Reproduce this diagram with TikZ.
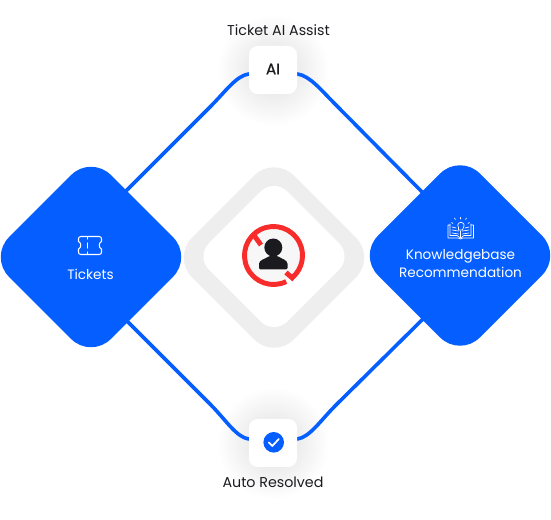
\documentclass[tikz,border=0pt]{standalone}
\usepackage{fontspec}
\setmainfont{Poppins}
\newfontfamily\aifont[FakeBold=0.6]{Poppins}
\usepackage{xcolor}
\usepackage{tikz}
\usetikzlibrary{backgrounds}
\definecolor{flowblue}{HTML}{055EFF}
\definecolor{ringgray}{HTML}{EEEEEE}
\definecolor{stopred}{HTML}{F92C2C}
\definecolor{inkdark}{HTML}{1B1B1F}

\begin{document}
\begin{tikzpicture}[x=0.75pt,y=-0.75pt]
	    \tikzstyle{tile}=[shape=rectangle,rotate=45,fill=flowblue,minimum size=108pt,rounded corners=21pt,inner sep=0pt]
	    \tikzstyle{badge}=[shape=rectangle,fill=white,minimum size=36pt,rounded corners=6.5pt,inner sep=0pt]
	    \tikzstyle{whitetext}=[text=white,font=\fontsize{10.2}{13}\selectfont,align=center]
	    \tikzstyle{caption}=[text=inkdark,font=\fontsize{10.7}{13}\selectfont]
	    \tikzstyle{link}=[draw=flowblue,line width=2.7pt,line cap=round]
	    \tikzstyle{icon}=[draw=white,line width=0.8pt,line cap=round,line join=round]
	    \tikzstyle{iconthin}=[draw=white,line width=0.5pt,line cap=round,line join=round]
	    \useasboundingbox (0,0) rectangle (551,520);

	    \node[tile](tickets) at (91,257){};
	    \node[tile](kb) at (460,255.5){};
	    \node[tile,fill=ringgray](ringout) at (274,257.5){};
	    \node[tile,fill=white,minimum size=83pt,rounded corners=14pt](ringin) at (274,256.5){};
	    \node[badge](ai) at (273,70){};
	    \node[badge](done) at (273,443){};

	    \node[caption](lai) at (278.5,30){Ticket AI Assist};
	    \node[caption](ldone) at (273,482.5){Auto Resolved};
	    \node[caption,font=\fontsize{11.5}{13}\aifont](tai) at (273,69){AI};
	    \node[whitetext](ttickets) at (90.5,274){Tickets};
	    \node[whitetext](tkb) at (460.5,263.5){Knowledgebase\\Recommendation};

	    % ends of the connectors, hidden under the tiles
	    \coordinate(t1) at (120,197);
	    \coordinate(t2) at (120,314);
	    \coordinate(k1) at (425,195);
	    \coordinate(k2) at (425,317);

	    \begin{scope}[on background layer]
	        \shade[inner color=black!13,outer color=white] (ai) circle (56);
	        \shade[inner color=black!13,outer color=white] (done) circle (56);
	        \draw[link] (t1) -- (210,107) .. controls (226,91) and (236,76) .. (ai);
	        \draw[link] (k1) -- (336,105) .. controls (320,89) and (310,76) .. (ai);
	        \draw[link] (t2) -- (210,404) .. controls (226,420) and (236,437) .. (done);
	        \draw[link] (k2) -- (336,405) .. controls (320,421) and (310,437) .. (done);
	    \end{scope}

	    % no person sign
	    \node[circle,fill=black!3,minimum size=42pt,inner sep=0pt](sign) at (273.5,255.5){};
	    \draw[stopred,line width=3.7pt] (sign.center) ++(64:29) arc (64:407:29);
	    \draw[stopred,line width=3.7pt] (254.5,236) -- (261,245);
	    \draw[stopred,line width=3.7pt] (286,272.5) -- (294,279.5);
	    \fill[inkdark] (273.3,247.5) circle (9);
	    \fill[inkdark,rounded corners=1pt] (259,269.5) -- (259,265) .. controls (259,260) and (266,258.5) .. (269,256) -- (278,256) .. controls (281,258.5) and (287.5,260) .. (287.5,265) -- (287.5,269.5) -- cycle;

	    % ticket
	    \draw[icon] (81,236.5) -- (99,236.5) .. controls (101,236.5) and (101.5,237.5) .. (101.5,239) -- (101.5,241.5) .. controls (98.5,242.5) and (98.5,248) .. (101.5,249) -- (101.5,252) .. controls (101.5,253.5) and (101,254.5) .. (99,254.5) -- (81,254.5) .. controls (79,254.5) and (78.5,253.5) .. (78.5,252) -- (78.5,249) .. controls (81.5,248) and (81.5,242.5) .. (78.5,241.5) -- (78.5,239) .. controls (78.5,237.5) and (79,236.5) .. (81,236.5) -- cycle;
	    \draw[icon] (87.7,237) -- (87.7,239);
	    \draw[icon] (87.7,243) -- (87.7,248);
	    \draw[icon] (87.7,252) -- (87.7,254);

	    % book with bulb
	    \draw[iconthin] (450,225) -- (448,225) -- (448,238) -- (458,238) -- (460.5,239) -- (463,238) -- (473.5,238) -- (473.5,225) -- (471,225);
	    \draw[iconthin] (450,224) -- (450,235.5) -- (457,235.5) -- (460.5,238) -- (464,235.5) -- (471,235.5) -- (471,224);
	    \draw[iconthin] (460.5,231) -- (460.5,238);
	    \draw[iconthin] (452,227) -- (456,228);
	    \draw[iconthin] (452,230) -- (458.5,231);
	    \draw[iconthin] (452,233) -- (458.5,234);
	    \draw[iconthin] (469,227) -- (465,228);
	    \draw[iconthin] (469,230) -- (462.5,231);
	    \draw[iconthin] (469,233) -- (462.5,234);
	    \draw[iconthin] (458.5,227.5) arc (140:400:3.2) -- (462.5,230) -- (458.5,230) -- cycle;
	    \draw[iconthin] (460.5,219) -- (460.5,217.5);
	    \draw[iconthin] (455.5,219.5) -- (454.5,218);
	    \draw[iconthin] (465.5,219.5) -- (466.5,218);
	    \draw[iconthin] (453,223.5) -- (451.5,222.5);
	    \draw[iconthin] (468,223.5) -- (469.5,222.5);

	    % check mark
	    \fill[flowblue] (273.7,442.3) circle (10.3);
	    \draw[icon,line width=1.3pt] (268.8,442.5) -- (272.3,446) -- (278.8,439);
\end{tikzpicture}
\end{document}
